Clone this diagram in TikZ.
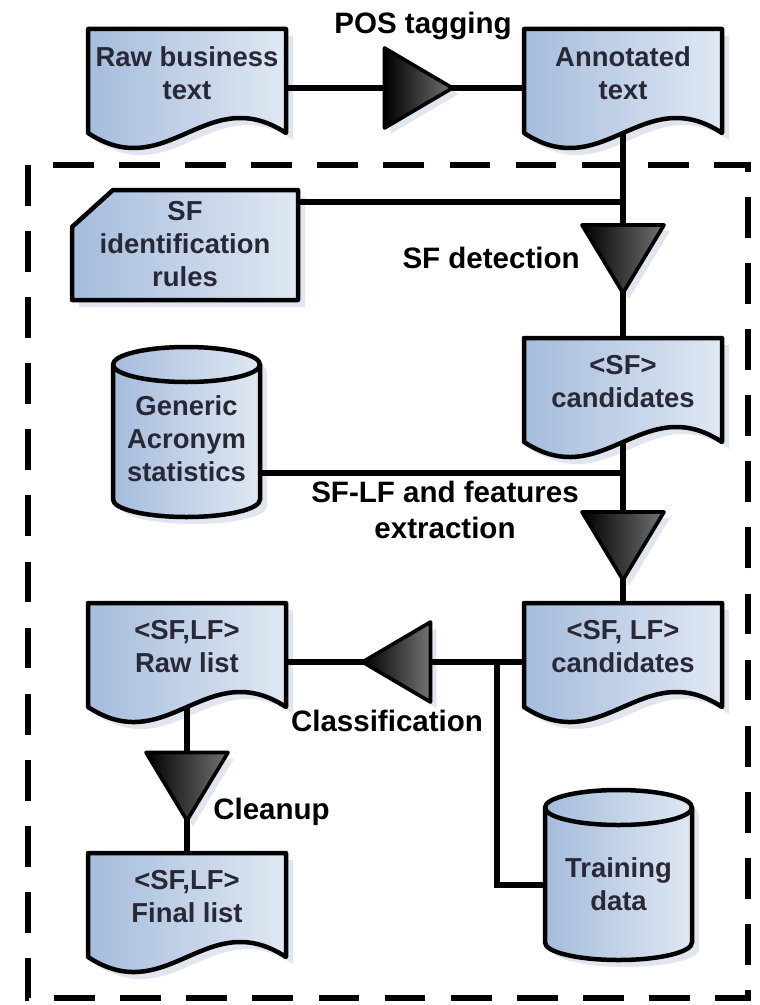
\documentclass[tikz,border=0pt]{standalone}
\usepackage{fontspec}
\setmainfont{Liberation Sans}
\def\pxu{0.025cm}
\definecolor{boxL}{RGB}{165,188,220}
\definecolor{boxR}{RGB}{224,232,243}
\definecolor{shadowc}{RGB}{224,229,238}
\definecolor{txt}{RGB}{40,40,55}
\tikzset{
 docbox/.style={inner sep=0pt,outer sep=0pt,minimum width=198*\pxu,minimum height=118*\pxu},
 cylbox/.style={inner sep=0pt,outer sep=0pt,minimum width=147*\pxu,minimum height=170*\pxu},
 cardbox/.style={inner sep=0pt,outer sep=0pt,minimum width=226*\pxu,minimum height=110*\pxu},
 boxshape/.style={draw=black, line width=3.2pt, line join=round, left color=boxL, right color=boxR},
 shadowfill/.style={fill=shadowc},
 conn/.style={draw=black, line width=4pt},
 trishape/.style={draw=black, line width=2.6pt, line join=round, left color=black, right color=black!55},
 boxtext/.style={text=txt, font=\fontsize{19.5}{23.5}\selectfont\bfseries, align=center, inner sep=0pt},
 lbl/.style={text=black, font=\fontsize{21}{25}\selectfont\bfseries, align=center, inner sep=0pt},
 dashbox/.style={draw=black, line width=4.4pt, dash pattern=on 29pt off 18pt},
}
\newcommand\docpath[3]{([shift={(#2,#3)}]#1.north west) -- ([shift={(#2,#3)}]#1.north east) -- ([shift={(#2,#3+104)}]#1.north east) .. controls ([shift={(#2+118.8,#3+52)}]#1.north west) and ([shift={(#2+79.2,#3+156)}]#1.north west) .. ([shift={(#2,#3+104)}]#1.north west) -- cycle}
\newcommand\cardpath[3]{([shift={(#2+41,#3)}]#1.north west) -- ([shift={(#2,#3)}]#1.north east) -- ([shift={(#2,#3)}]#1.south east) -- ([shift={(#2,#3)}]#1.south west) -- ([shift={(#2,#3+37)}]#1.north west) -- cycle}
\newcommand\cylpath[3]{([shift={(#2,#3+17.5)}]#1.north west) -- ([shift={(#2,#3-17.5)}]#1.south west) arc[start angle=180,end angle=0,x radius=73.5,y radius=17.5] -- ([shift={(#2,#3+17.5)}]#1.north east) arc[start angle=0,end angle=-180,x radius=73.5,y radius=17.5] -- cycle}
\newcommand\cyltop[1]{\draw[line width=3.2pt] ([shift={(0,17.5)}]#1.north west) arc[start angle=180,end angle=0,x radius=73.5,y radius=17.5];}
\newcommand\trirpath[3]{([shift={(#2-34,#3-40)}]#1) -- ([shift={(#2+34,#3)}]#1) -- ([shift={(#2-34,#3+40)}]#1) -- cycle}
\newcommand\trilpath[3]{([shift={(#2+34,#3-40)}]#1) -- ([shift={(#2+34,#3+40)}]#1) -- ([shift={(#2-34,#3)}]#1) -- cycle}
\newcommand\tridpath[3]{([shift={(#2-41,#3-34)}]#1) -- ([shift={(#2+41,#3-34)}]#1) -- ([shift={(#2,#3+34)}]#1) -- cycle}
\begin{document}
\begin{tikzpicture}[x=0.025cm,y=-0.025cm]
\useasboundingbox (0,0) rectangle (759,1005);
% anchor nodes
\node[docbox] (raw) at (187,88) {};
\node[docbox] (ann) at (623,88) {};
\node[docbox] (sfc) at (623,397) {};
\node[docbox] (sflf) at (623,662) {};
\node[docbox] (rawl) at (187,662) {};
\node[docbox] (fin) at (187,912) {};
\node[cardbox] (sfr) at (185,245) {};
\node[cylbox] (gen) at (186.5,432) {};
\node[cylbox] (train) at (618.5,875) {};
\coordinate (tpos) at (418.5,88);
\coordinate (tdet) at (623,259);
\coordinate (text) at (623,546);
\coordinate (tcls) at (396.5,662);
\coordinate (tcln) at (187,786.5);
\coordinate (j1) at (623,202);
\coordinate (j2) at (623,473);
\coordinate (j3) at (497,662);
% dashed boundary
\draw[dashbox] (28,165) rectangle (748,998);
% shadows
\foreach \n in {raw,ann,sfc,sflf,rawl,fin}{\fill[shadowfill] \docpath{\n}{7}{7};}
\fill[shadowfill] \cardpath{sfr}{7}{7};
\fill[shadowfill] \cylpath{gen}{7}{7};
\fill[shadowfill] \cylpath{train}{7}{7};
\fill[shadowfill] \trirpath{tpos}{6}{6};
\fill[shadowfill] \tridpath{tdet}{6}{6};
\fill[shadowfill] \tridpath{text}{6}{6};
\fill[shadowfill] \trilpath{tcls}{6}{6};
\fill[shadowfill] \tridpath{tcln}{6}{6};
% connectors
\draw[conn] (raw.center) -- (ann.center);
\draw[conn] (ann.center) -- (sfc.center);
\draw[conn] (sfc.center) -- (sflf.center);
\draw[conn] (sflf.center) -- (rawl.center);
\draw[conn] (rawl.center) -- (fin.center);
\draw[conn] ([shift={(0,-43)}]sfr.center) -- (j1);
\draw[conn] ([shift={(0,41)}]gen.center) -- (j2);
\draw[conn] (j3) |- ([shift={(0,10)}]train.center);
% shapes
\foreach \n in {raw,ann,sfc,sflf,rawl,fin}{\draw[boxshape] \docpath{\n}{0}{0};}
\draw[boxshape] \cardpath{sfr}{0}{0};
\draw[boxshape] \cylpath{gen}{0}{0};
\cyltop{gen}
\draw[boxshape] \cylpath{train}{0}{0};
\cyltop{train}
% triangles
\draw[trishape] \trirpath{tpos}{0}{0};
\draw[trishape] \tridpath{tdet}{0}{0};
\draw[trishape] \tridpath{text}{0}{0};
\draw[trishape] \trilpath{tcls}{0}{0};
\draw[trishape] \tridpath{tcln}{0}{0};
% box texts
\node[boxtext] (rawT) at ([shift={(0,-15)}]raw.center) {Raw business\\text};
\node[boxtext] (annT) at ([shift={(0,-15)}]ann.center) {Annotated\\text};
\node[boxtext] (sfcT) at ([shift={(0,-15)}]sfc.center) {<SF>\\candidates};
\node[boxtext] (sflfT) at ([shift={(0,-15)}]sflf.center) {<SF, LF>\\candidates};
\node[boxtext] (rawlT) at ([shift={(0,-15)}]rawl.center) {<SF,LF>\\Raw list};
\node[boxtext] (finT) at ([shift={(0,-15)}]fin.center) {<SF,LF>\\Final list};
\node[boxtext] (sfrT) at ([shift={(0,-1)}]sfr.center) {SF\\identification\\rules};
\node[boxtext] (genT) at ([shift={(0,7)}]gen.center) {Generic\\Acronym\\statistics};
\node[boxtext] (trainT) at ([shift={(0,9)}]train.center) {Training\\data};
% labels
\node[lbl, anchor=base] (lpos) at (423,34) {POS tagging};
\node[lbl, anchor=east] (ldet) at (580,258) {SF detection};
\node[lbl] (lext) at (445,510) {SF-LF and features\\extraction};
\node[lbl, anchor=base] (lcls) at (387,731) {Classification};
\node[lbl, anchor=base west] (lcln) at (213,819) {Cleanup};
\end{tikzpicture}
\end{document}
